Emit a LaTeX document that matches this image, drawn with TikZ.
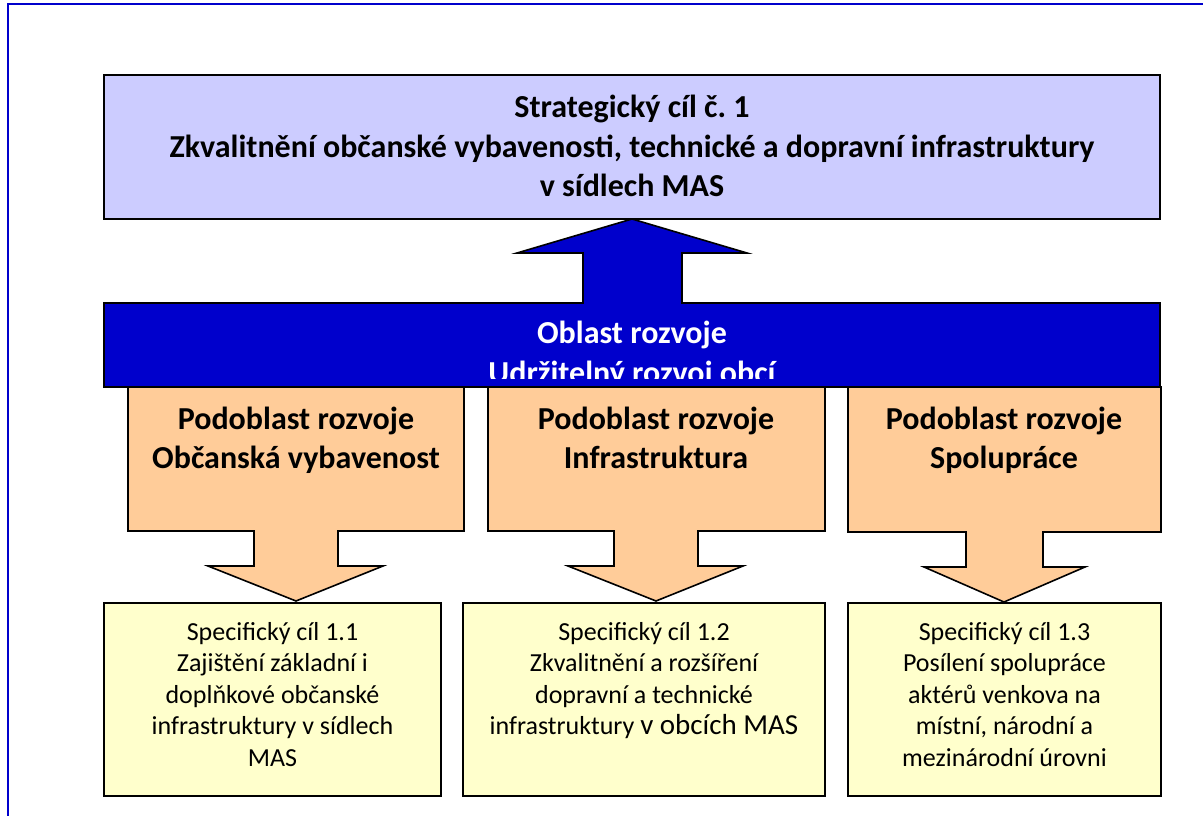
\documentclass[tikz,border=0pt]{standalone}
\usepackage{fontspec}
\setmainfont{Carlito}
\frenchspacing
\definecolor{framecol}{HTML}{0000CC}
\definecolor{lavender}{HTML}{CCCCFF}
\definecolor{deepblue}{HTML}{0000CC}
\definecolor{peach}{HTML}{FFCC99}
\definecolor{paleyellow}{HTML}{FFFFCC}
\begin{document}
\begin{tikzpicture}[x=1pt,y=-1pt,
  shapeline/.style={draw=black, line width=1.6pt, line join=miter},
  titletext/.style={font=\fontsize{32}{39.5}\selectfont\bfseries, align=center, inner sep=0pt, anchor=north},
  goaltext/.style={font=\fontsize{26}{31.5}\selectfont, align=center, inner sep=0pt, anchor=north}]
\useasboundingbox (0,0) rectangle (1203,816);
% outer frame
\draw[framecol, line width=2pt] (1210,4) -- (8,4) -- (8,830);
% strategic goal box
\draw[shapeline, fill=lavender] (104,75) rectangle (1160,219);
\node[titletext] (strat) at (632,95) {Strategický cíl č.~1\\Zkvalitnění občanské vybavenosti, technické a dopravní infrastruktury\\v sídlech MAS};
% blue up arrow callout
\draw[shapeline, fill=deepblue] (104,387) -- (104,303) -- (583,303) -- (583,253) -- (517,253) -- (632,219) -- (747,253) -- (682,253) -- (682,303) -- (1160,303) -- (1160,387) -- cycle;
\begin{scope}
\clip (104,303) rectangle (1160,378);
\node[titletext, text=white] (oblast) at (632,321) {Oblast rozvoje\\Udržitelný rozvoj obcí};
\end{scope}
% orange down arrow callouts
\draw[shapeline, fill=peach] (128,387) -- (464,387) -- (464,531) -- (338,531) -- (338,566) -- (383,566) -- (296,601) -- (208,566) -- (254,566) -- (254,531) -- (128,531) -- cycle;
\draw[shapeline, fill=peach] (488,387) -- (825,387) -- (825,531) -- (698,531) -- (698,566) -- (743,566) -- (656,601) -- (568,566) -- (614,566) -- (614,531) -- (488,531) -- cycle;
\draw[shapeline, fill=peach] (848,387) -- (1161,387) -- (1161,532) -- (1043,532) -- (1043,567) -- (1085,567) -- (1004,602) -- (924,567) -- (966,567) -- (966,532) -- (848,532) -- cycle;
\node[titletext] (pod1) at (296,406.5) {Podoblast rozvoje\\Občanská vybavenost};
\node[titletext] (pod2) at (656,406.5) {Podoblast rozvoje\\Infrastruktura};
\node[titletext] (pod3) at (1004,406.5) {Podoblast rozvoje\\Spolupráce};
% specific goals
\draw[shapeline, fill=paleyellow] (104,603) rectangle (441,796);
\draw[shapeline, fill=paleyellow] (463,603) rectangle (825,796);
\draw[shapeline, fill=paleyellow] (848,603) rectangle (1161,796);
\node[goaltext] (sc1) at (272.5,622) {Specifický cíl 1.1\\Zajištění základní i\\doplňkové občanské\\infrastruktury v sídlech\\MAS};
\node[goaltext] (sc2) at (644,622) {Specifický cíl 1.2\\Zkvalitnění a rozšíření\\dopravní a technické\\infrastruktury {\fontsize{29}{31.5}\selectfont v obcích MAS}};
\node[goaltext] (sc3) at (1004.5,622) {Specifický cíl 1.3\\Posílení spolupráce\\aktérů venkova na\\místní, národní a\\mezinárodní úrovni};
\end{tikzpicture}
\end{document}
